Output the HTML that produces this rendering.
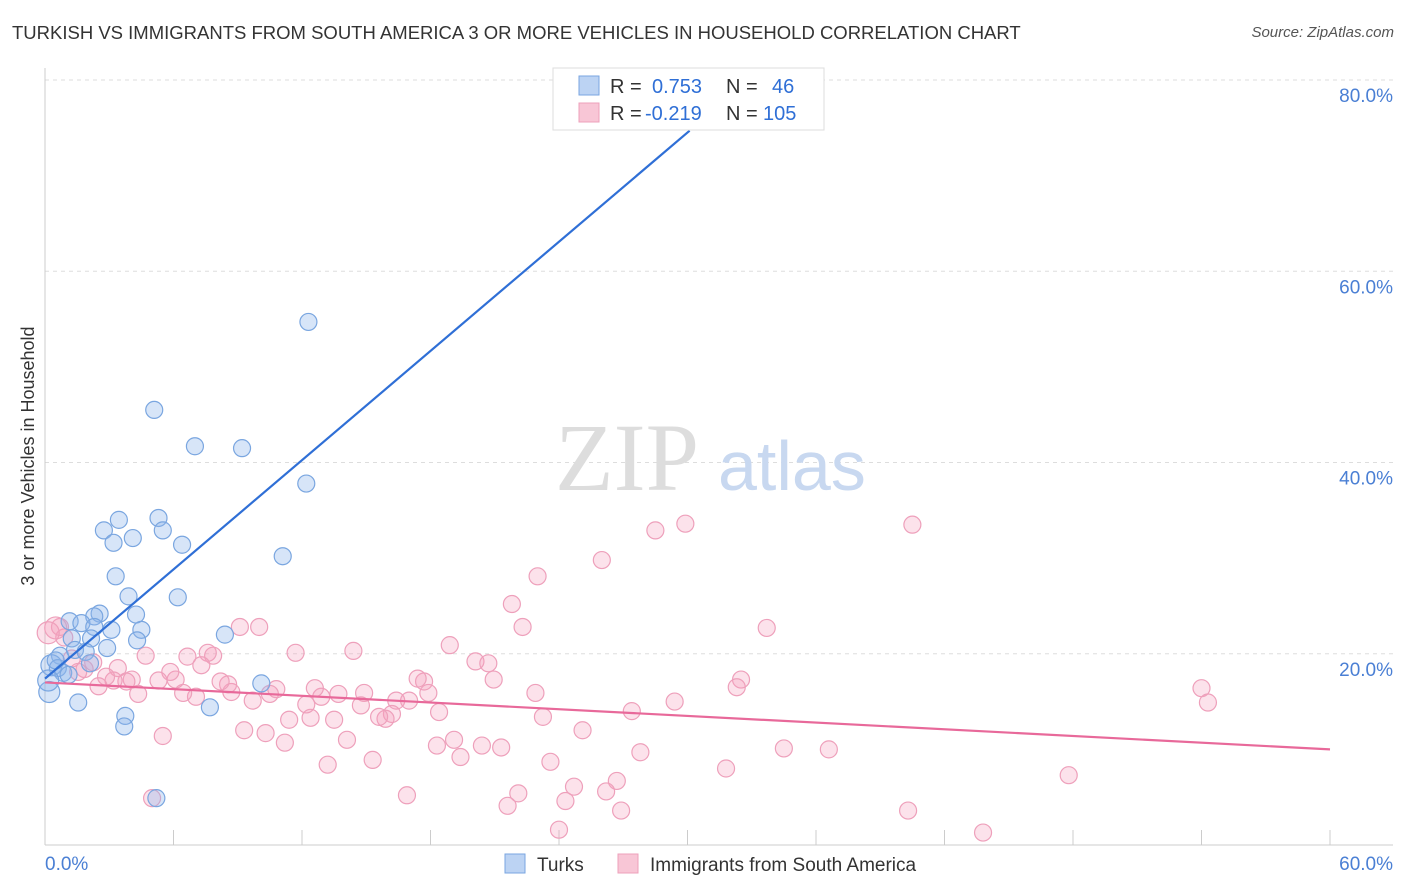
<!DOCTYPE html>
<html><head><meta charset="utf-8">
<style>
body{margin:0;background:#fff;font-family:"Liberation Sans",sans-serif;}
#wrap{position:relative;width:1406px;height:892px;overflow:hidden;}
.title{position:absolute;left:12px;top:22px;font-size:18.5px;color:#333;}
.source{position:absolute;right:12px;top:24px;font-size:15px;color:#555;font-style:italic;}
</style></head><body>
<div id="wrap">
<div class="title">TURKISH VS IMMIGRANTS FROM SOUTH AMERICA 3 OR MORE VEHICLES IN HOUSEHOLD CORRELATION CHART</div>
<div class="source">Source: ZipAtlas.com</div>
<svg id="svg" width="1406" height="892" style="position:absolute;left:0;top:0"></svg>
</div>
<script>
const xTicks=[0,6,12,18,24,30,36,42,48,54,60];
const yTicks=[20,40,60,80];
const turksX=[12.3,5.1,7.0,9.2,12.2,11.1,2.75,3.45,3.2,4.1,5.3,5.5,6.4,3.3,6.2,3.9,4.25,2.55,2.3,3.1,4.5,4.3,1.15,1.7,2.3,1.25,2.15,2.9,0.7,1.4,1.9,2.1,0.3,0.6,0.85,0.2,1.55,3.75,3.7,7.7,10.1,8.4,5.2,1.1,0.15,0.5];
const turksY=[54.7,45.5,41.7,41.5,37.8,30.2,32.9,34.0,31.6,32.1,34.2,32.9,31.4,28.1,25.9,26.0,24.1,24.2,23.9,22.5,22.5,21.4,23.4,23.2,22.8,21.6,21.6,20.6,19.8,20.4,20.2,19.0,18.8,18.5,18.0,16.0,14.9,13.5,12.4,14.4,16.9,22.0,4.9,17.8,17.2,19.3];
const immX=[29.9,28.5,40.5,26.0,23.0,21.8,22.3,33.7,18.9,20.1,20.7,20.95,22.9,23.25,25.1,27.4,29.4,32.5,32.3,27.8,34.5,36.6,31.8,54.0,54.3,47.8,40.3,43.8,26.7,26.2,26.9,24.7,24.3,24.0,23.6,22.1,21.6,21.3,20.4,19.4,19.1,18.3,18.4,17.9,17.7,17.4,16.4,16.2,15.9,15.6,15.3,14.9,14.75,14.4,14.1,13.7,13.5,13.2,12.9,12.6,12.4,12.2,11.7,11.4,11.2,10.8,10.5,10.3,10.0,9.7,9.3,9.1,8.7,8.55,8.2,7.85,7.6,7.3,7.05,6.65,6.45,6.1,5.85,5.5,5.3,5.0,4.7,4.35,4.05,3.8,3.4,3.2,2.85,2.5,2.25,1.85,1.55,1.25,0.9,0.7,0.5,0.15,16.9,17.0];
const immY=[33.6,32.9,33.5,29.8,28.1,25.2,22.8,22.7,20.9,19.2,19.0,17.3,15.9,13.4,12.0,14.0,15.0,17.3,16.5,9.7,10.1,10.0,8.0,16.4,14.9,7.3,3.6,1.3,6.7,5.6,3.6,6.1,4.6,1.6,8.7,5.4,4.1,10.2,10.4,9.2,11.0,10.4,13.9,15.9,17.1,17.4,15.1,13.7,13.2,13.4,8.9,15.9,14.6,20.3,11.0,15.8,13.1,8.4,15.5,16.4,13.3,14.7,20.1,13.1,10.7,16.3,15.8,11.7,22.8,15.1,12.0,22.8,16.0,16.8,17.1,19.8,20.1,18.8,15.5,19.7,15.9,17.3,18.1,11.4,17.2,4.9,19.8,15.8,17.3,17.1,18.5,17.2,17.6,16.6,19.1,18.4,18.1,19.5,21.7,22.8,22.7,22.2,5.2,15.1];
const turksLine=[[0,17.4],[30.1,74.7]];
const immLine=[[0,17.0],[60,10.0]];

const NS="http://www.w3.org/2000/svg";
const svg=document.getElementById('svg');
const X=v=>45+v*1285/60;
const Y=v=>845-v*(845-80)/80;
function mk(t,a,p){const e=document.createElementNS(NS,t);for(const k in a)e.setAttribute(k,a[k]);(p||svg).appendChild(e);return e;}
yTicks.forEach(t=>{
 const g=mk('line',{x1:45,x2:1393,y1:Y(t),y2:Y(t),stroke:'#ddd','stroke-dasharray':'4,4'});
 
 
 const tx=mk('text',{x:1393,y:Y(t)+22,'text-anchor':'end','font-size':19,fill:'#4a7fd4'});
 tx.textContent=t.toFixed(1)+'%';
 
 
});
const ax=mk('line',{x1:45,x2:45,y1:68,y2:845,stroke:'#ccc'});


const bx=mk('line',{x1:45,x2:1393,y1:845,y2:845,stroke:'#ccc'});


xTicks.forEach(t=>{
 const l=mk('line',{x1:X(t),x2:X(t),y1:830,y2:845,stroke:'#ccc'});
 
 
});
const x0=mk('text',{x:45,y:870,'font-size':19,fill:'#4a7fd4'});x0.textContent='0.0%';


const x1=mk('text',{x:1393,y:870,'text-anchor':'end','font-size':19,fill:'#4a7fd4'});x1.textContent='60.0%';


const yt=mk('text',{x:34,y:456,'text-anchor':'middle','font-size':18,fill:'#333',transform:'rotate(-90 34 456)'});
yt.textContent='3 or more Vehicles in Household';


const wm=mk('text',{x:555,y:490,'font-size':96,fill:'#ddd','font-family':'Liberation Serif'});
wm.textContent='ZIP';


const wm2=mk('text',{x:718,y:490,'font-size':70,fill:'#c8d8f0'});
wm2.textContent='atlas';


immX.forEach((v,i)=>{
 const c=mk('circle',{cx:X(v),cy:Y(immY[i]),r:(v<0.6?11:8.5),fill:'rgba(244,160,190,0.3)',stroke:'#eea0bb','stroke-width':1.2});
 
 
});
turksX.forEach((v,i)=>{
 const c=mk('circle',{cx:X(v),cy:Y(turksY[i]),r:(v<0.35?10.5:8.5),fill:'rgba(140,180,235,0.35)',stroke:'#7aa6e0','stroke-width':1.2});
 
 
});
const tl=mk('line',{x1:X(turksLine[0][0]),y1:Y(turksLine[0][1]),x2:X(turksLine[1][0]),y2:Y(turksLine[1][1]),stroke:'#2f6fd6','stroke-width':2.2});


const il=mk('line',{x1:X(immLine[0][0]),y1:Y(immLine[0][1]),x2:X(immLine[1][0]),y2:Y(immLine[1][1]),stroke:'#e8699a','stroke-width':2.2});


const lg=mk('g',{});


mk('rect',{x:553,y:68,width:271,height:62,fill:'#fff',stroke:'#ddd'},lg);
mk('rect',{x:579,y:76,width:20,height:19,fill:'#bcd3f3',stroke:'#7aa6e0'},lg);
mk('rect',{x:579,y:103,width:20,height:19,fill:'#f8c6d6',stroke:'#eea0bb'},lg);
function lt(x,y,s,c){const t=mk('text',{x:x,y:y,'font-size':20,fill:c},lg);t.textContent=s;return t;}
lt(610,93,'R =','#333');lt(652,93,'0.753','#2f6fd6');lt(726,93,'N =','#333');lt(772,93,'46','#2f6fd6');
lt(610,120,'R =','#333');lt(645,120,'-0.219','#2f6fd6');lt(726,120,'N =','#333');lt(763,120,'105','#2f6fd6');
const bl=mk('g',{});


mk('rect',{x:505,y:854,width:20,height:19,fill:'#bcd3f3',stroke:'#7aa6e0'},bl);
const b1=mk('text',{x:537,y:871,'font-size':19,fill:'#333'},bl);b1.textContent='Turks';
mk('rect',{x:618,y:854,width:20,height:19,fill:'#f8c6d6',stroke:'#eea0bb'},bl);
const b2=mk('text',{x:650,y:871,'font-size':19,fill:'#333'},bl);b2.textContent='Immigrants from South America';
</script>
</body></html>
